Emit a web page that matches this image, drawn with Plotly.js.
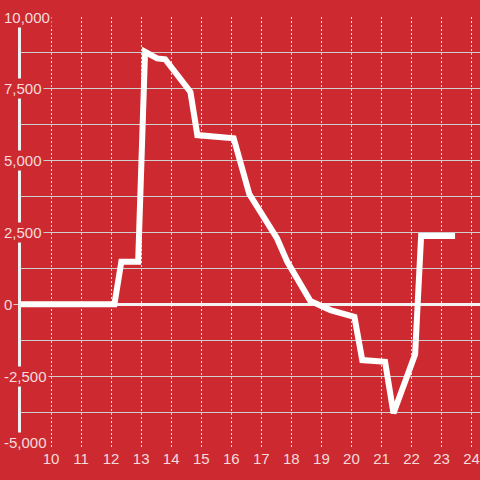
<!DOCTYPE html>
<html>
<head>
<meta charset="utf-8">
<script src="https://cdn.plot.ly/plotly-3.0.1.min.js"></script>
<style>html,body{margin:0;padding:0;background:#cc2a30;}#chart{width:480px;height:480px;}</style>
</head>
<body>
<div id="chart"></div>
<script>
// Data
const xValues = [9, 12.11, 12.34, 12.9, 13.13, 13.53, 13.8, 14.64, 14.87, 16.08, 16.6, 17.52, 17.87, 18.63, 19.3, 20.1, 20.36, 21.12, 21.4, 22.12, 22.32, 23.45];
const yValues = [0, 0, 1480, 1480, 8790, 8560, 8530, 7390, 5890, 5780, 3840, 2300, 1470, 120, -200, -440, -1940, -2000, -3790, -1740, 2380, 2380];
const xTickVals = [10, 11, 12, 13, 14, 15, 16, 17, 18, 19, 20, 21, 22, 23, 24];
const xTickText = ["10", "11", "12", "13", "14", "15", "16", "17", "18", "19", "20", "21", "22", "23", "24"];
const yTickVals = [-5000, -2500, 0, 2500, 5000, 7500, 10000];
const yTickText = ["-5,000", "-2,500", "0", "2,500", "5,000", "7,500", "10,000"];

const BG = '#cc2a30';
const LABEL = '#f5dcdc';
const GRID = '#cfcfcf';
const FONT = 'Liberation Sans, Arial, sans-serif';

const yMin = Math.min(...yTickVals);
const annotations = yTickVals.map((v, i) => ({
  xref: 'paper', yref: 'y', x: 0, y: v,
  xanchor: 'left', yanchor: 'middle',
  xshift: -19, yshift: v === yMin ? 6 : 0,
  text: yTickText[i], showarrow: false,
  bgcolor: BG, borderpad: 1,
  font: {family: FONT, size: 15, color: LABEL}
}));

const trace = {
  x: xValues, y: yValues, type: 'scatter', mode: 'lines',
  line: {color: '#ffffff', width: 6},
  hoverinfo: 'skip'
};

const layout = {
  width: 480, height: 480,
  margin: {l: 21, r: 0, t: 17, b: 32},
  paper_bgcolor: BG, plot_bgcolor: BG,
  showlegend: false,
  font: {family: FONT, size: 15, color: LABEL},
  xaxis: {
    range: [9, 24.28],
    tickvals: xTickVals, ticktext: xTickText,
    showgrid: true, gridcolor: '#e6e6e6', gridwidth: 1, griddash: '2px,2px',
    zeroline: false, showline: false, ticks: '',
    tickfont: {family: FONT, size: 15, color: LABEL}
  },
  yaxis: {
    range: [-5000, 10000],
    tickvals: yTickVals, showticklabels: false,
    showgrid: true, gridcolor: GRID, gridwidth: 1,
    ticks: 'outside', ticklen: 11, tickcolor: GRID, tickwidth: 1,
    minor: {dtick: 1250, tick0: 0, showgrid: true, gridcolor: GRID, gridwidth: 1, ticks: ''},
    zeroline: true, zerolinecolor: '#f2f2f2', zerolinewidth: 3,
    showline: true, linecolor: '#f2f2f2', linewidth: 3
  },
  annotations: annotations
};

Plotly.newPlot('chart', [trace], layout, {displayModeBar: false, staticPlot: true});
</script>
</body>
</html>
